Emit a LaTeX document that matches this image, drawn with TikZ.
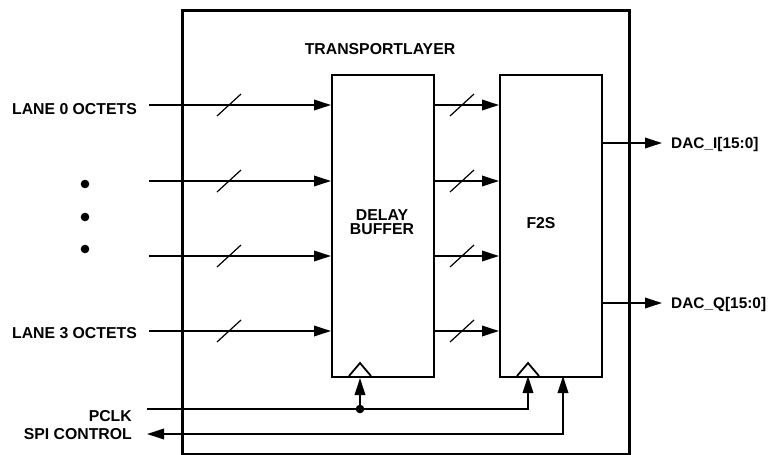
\documentclass[tikz,border=0pt]{standalone}
\usepackage{fontspec}
\setmainfont{Liberation Sans}
\usetikzlibrary{arrows.meta}
\begin{document}
\begin{tikzpicture}[x=1pt,y=-1pt,
  lbl/.style={font=\bfseries\fontsize{15.8}{17.5}\selectfont, inner sep=0pt},
  olbl/.style={font=\bfseries\fontsize{15.4}{17}\selectfont, inner sep=0pt, anchor=base west},
  blk/.style={draw, line width=2pt, inner sep=0pt, anchor=north west, minimum width=102pt, minimum height=302pt},
  sig/.style={line width=1.8pt, -{Triangle[length=17pt,width=10.5pt]}},
  wire/.style={line width=1.8pt},
  bus/.style={line width=1.2pt},
  ]
\useasboundingbox (0,0) rectangle (769,455);
% outer box
\node[draw, line width=2.5pt, inner sep=0pt, anchor=north west, minimum width=447pt, minimum height=444pt] (outer) at (181,9) {};
\node[lbl] (title) at (380,49) {TRANSPORTLAYER};
% blocks
\node[blk] (db) at (331,74) {};
\node[blk] (f2s) at (499,74) {};
\node[lbl, align=center] (dbt) at (382,222) {DELAY\\[-3pt]BUFFER};
\node[lbl] (f2st) at (541,223) {F2S};
% input labels
\node[lbl, anchor=east] (l0) at (137,109) {LANE 0 OCTETS};
\node[lbl, anchor=east] (l3) at (137,333.5) {LANE 3 OCTETS};
\fill (85,184) circle (4.3pt) (85,217) circle (4.3pt) (85,249) circle (4.3pt);
% input arrows
\foreach \y [count=\i] in {105,181,256,331} {
  \coordinate (in\i) at (149,\y);
  \draw[sig] (in\i) -- (in\i -| db.west);
  \draw[bus] (217,\y+11) -- (241,\y-11);
  \coordinate (mid\i) at (db.east |- in\i);
  \draw[sig] (mid\i) -- (mid\i -| f2s.west);
  \draw[bus] (450,\y+11) -- (474,\y-11);
}
% outputs
\coordinate (oi) at (f2s.east |- 0,143);
\coordinate (oq) at (f2s.east |- 0,303);
\coordinate (oie) at (662,143);
\coordinate (oqe) at (662,303);
\draw[sig] (oi) -- (oie);
\draw[sig] (oq) -- (oqe);
\node[olbl] (dai) at (671,148) {DAC\_I[15:0]};
\node[olbl] (daq) at (671,308) {DAC\_Q[15:0]};
% clock triangles
\draw[wire, line join=miter] (349,376) -- (360,363) -- (371,376);
\draw[wire, line join=miter] (517,376) -- (528,363) -- (539,376);
% PCLK
\coordinate (pclk) at (147,409);
\coordinate (junc) at (360,409);
\draw[sig] (pclk) -| (528,376);
\draw[sig] (junc) -- (junc |- db.south);
\fill (junc) circle (4.3pt);
\node[lbl, anchor=east] (pl) at (132,416) {PCLK};
% SPI
\coordinate (spi) at (147,434);
\draw[wire, {Triangle[length=17pt,width=10.5pt]}-{Triangle[length=17pt,width=10.5pt]}] (spi) -| (563,376);
\node[lbl, anchor=east] (sl) at (132,434.5) {SPI CONTROL};
\end{tikzpicture}
\end{document}
